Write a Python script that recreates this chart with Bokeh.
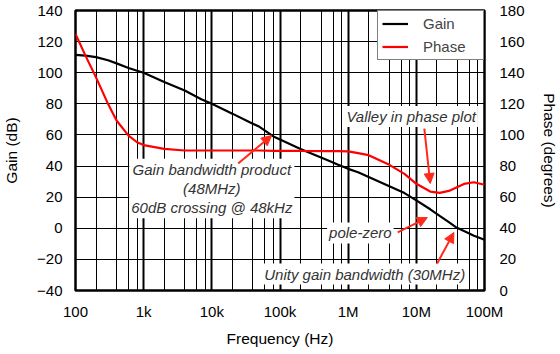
from bokeh.plotting import figure
from bokeh.models import (Range1d, LinearAxis, FixedTicker, Legend, LegendItem,
                          Label, Arrow, NormalHead)
from bokeh.embed import file_html
from bokeh.resources import INLINE

# ---- data ----
freq_hz = [100, 140, 200, 300, 400, 600, 800, 1e3, 2e3, 4e3, 7e3, 1e4, 2e4, 3.6e4,
           5e4, 8.3e4, 1e5, 2e5, 5e5, 7e5, 1e6, 1.4e6, 2e6, 3.8e6, 6.7e6, 1e7,
           1.6e7, 2.2e7, 3e7, 3.8e7, 5e7, 7e7, 1e8]
gain_db = [111.5, 111, 110, 108, 106, 103, 101.3, 100, 94, 88.6, 83, 80, 73.7, 68.2,
           65.2, 58.6, 57, 51, 43.8, 41, 38.2, 36, 33, 27.5, 22.6, 17.9,
           12.2, 8, 4, 0.7, -1.8, -4.8, -7.4]
phase_deg = [165, 151, 137, 120, 109.3, 99.6, 95.3, 93.5, 91, 90, 90, 90, 90, 90,
             90, 89.8, 89.8, 89.7, 89.6, 89.6, 89.4, 88.3, 87, 81.4, 75, 68.6,
             63.6, 62.8, 64, 66, 68.5, 69.6, 68]

x_ticks = [1e2, 1e3, 1e4, 1e5, 1e6, 1e7, 1e8]
x_tick_labels = ["100", "1k", "10k", "100k", "1M", "10M", "100M"]
x_minor = [m * 10 ** e for e in range(2, 8) for m in (2, 4, 6, 8)]
gain_ticks = [-40, -20, 0, 20, 40, 60, 80, 100, 120, 140]
phase_ticks = [0, 20, 40, 60, 80, 100, 120, 140, 160, 180]

# annotations: (text, x, y) in data units of the gain axis
notes = [
    ("Gain bandwidth product\n(48MHz)\n60dB crossing @ 48kHz", 1.0e4, 25.6),
    ("Valley in phase plot", 8.4e6, 71.9),
    ("pole-zero", 1.51e6, -3.0),
    ("Unity gain bandwidth (30MHz)", 1.75e6, -29.4),
]
arrows = [  # x_start, y_start, x_end, y_end
    (2.43e4, 41.6, 7.54e4, 59.6),
    (1.31e7, 64.1, 1.6e7, 28.8),
    (5.33e6, -2.7, 1.45e7, 6.9),
    (2.02e7, -22.6, 3.56e7, -2.7),
]

FONT = "Liberation Sans"
RED = "#ff0000"
ARROW_RED = "#ff2a1a"

p = figure(width=560, height=354, x_axis_type="log",
           x_range=Range1d(100, 1e8), y_range=Range1d(-40, 140),
           output_backend="svg", toolbar_location=None,
           min_border_left=73, min_border_right=72,
           min_border_top=10, min_border_bottom=64)
p.extra_y_ranges = {"phase": Range1d(0, 180)}
p.background_fill_color = "white"
p.border_fill_color = "white"
p.outline_line_color = "black"
p.outline_line_width = 2.5
p.outline_line_alpha = 1

# grids
p.xgrid.ticker = FixedTicker(ticks=x_ticks, minor_ticks=x_minor)
p.xgrid.grid_line_color = "black"
p.xgrid.grid_line_width = 2
p.xgrid.minor_grid_line_color = "black"
p.xgrid.minor_grid_line_width = 1
p.ygrid.ticker = FixedTicker(ticks=gain_ticks)
p.ygrid.grid_line_color = "black"
p.ygrid.grid_line_width = 1

# axes
p.xaxis.ticker = FixedTicker(ticks=x_ticks)
p.xaxis.major_label_overrides = {t: s for t, s in zip(x_ticks, x_tick_labels)}
p.xaxis.axis_label = "Frequency (Hz)"
p.yaxis.ticker = FixedTicker(ticks=gain_ticks)
p.yaxis.axis_label = "Gain (dB)"

ax_r = LinearAxis(y_range_name="phase", ticker=FixedTicker(ticks=phase_ticks),
                  axis_label="Phase (degrees)")
p.add_layout(ax_r, "right")

for ax in p.axis:
    ax.axis_line_color = None
    ax.major_tick_line_color = None
    ax.minor_tick_line_color = None
    ax.major_tick_out = 0
    ax.major_tick_in = 0
    ax.minor_tick_out = 0
    ax.minor_tick_in = 0
    ax.major_label_text_font = FONT
    ax.major_label_text_font_size = "15px"
    ax.major_label_text_color = "black"
    ax.axis_label_text_font = FONT
    ax.axis_label_text_font_size = "15.5px"
    ax.axis_label_text_font_style = "normal"
    ax.axis_label_text_color = "black"
p.xaxis.major_label_standoff = 12
p.xaxis.axis_label_standoff = 7
p.yaxis.major_label_standoff = 13
p.yaxis.axis_label_standoff = 14
ax_r.major_label_standoff = 15
ax_r.axis_label_standoff = 13

# curves
g = p.line(freq_hz, gain_db, line_color="black", line_width=2.2)
ph = p.line(freq_hz, phase_deg, line_color=RED, line_width=2.2, y_range_name="phase")

# annotations
for text, x, y in notes:
    p.add_layout(Label(x=x, y=y, text=text, text_align="center", text_baseline="middle",
                       text_font=FONT, text_font_style="italic", text_font_size="15px",
                       text_color="#333333", text_line_height=1.13,
                       background_fill_color="white", background_fill_alpha=1,
                       padding=2))
for xs, ys, xe, ye in arrows:
    p.add_layout(Arrow(x_start=xs, y_start=ys, x_end=xe, y_end=ye,
                       line_color=ARROW_RED, line_width=2,
                       end=NormalHead(size=10, fill_color=ARROW_RED, line_color=ARROW_RED)))

legend = Legend(items=[LegendItem(label="Gain", renderers=[g]),
                       LegendItem(label="Phase", renderers=[ph])],
                location="top_right", margin=0, padding=4, spacing=6,
                glyph_width=26, glyph_height=17, label_height=17, label_width=56,
                label_standoff=15,
                label_text_font=FONT, label_text_font_size="15px",
                border_line_color="black", border_line_width=1.5,
                background_fill_color="white", background_fill_alpha=1)
p.add_layout(legend)

open("out.html", "w").write(file_html(p, INLINE))
